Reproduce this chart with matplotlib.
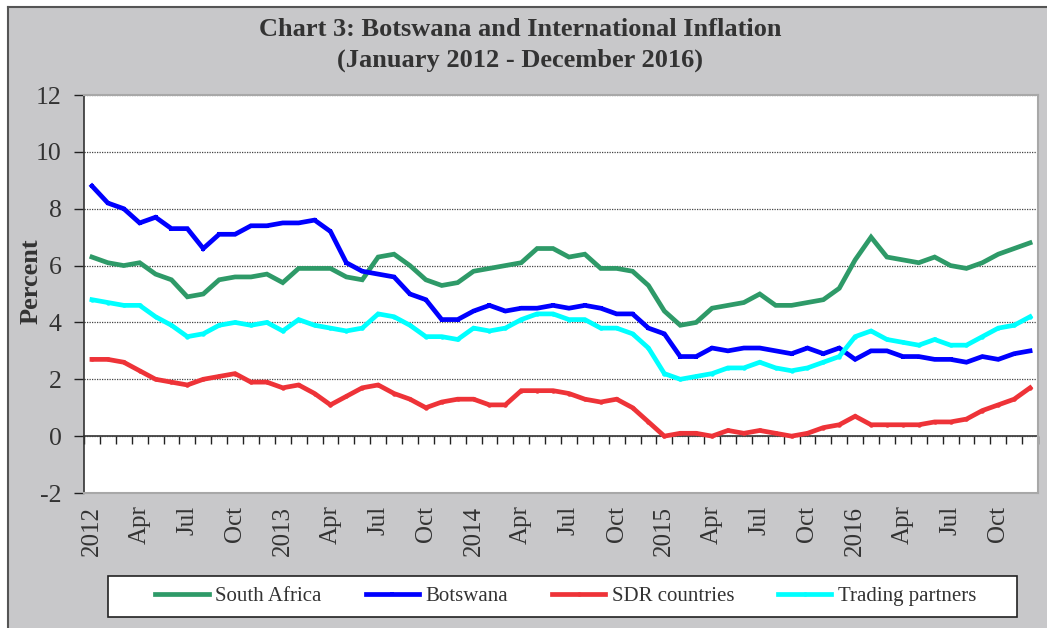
import matplotlib.pyplot as plt
import matplotlib.patches as mpatches
from matplotlib.lines import Line2D
import numpy as np

# Monthly inflation, January 2012 - December 2016 (percent)
south_africa = [
    6.3, 6.1, 6.0, 6.1, 5.7, 5.5, 4.9, 5.0, 5.5, 5.6, 5.6, 5.7,
    5.4, 5.9, 5.9, 5.9, 5.6, 5.5, 6.3, 6.4, 6.0, 5.5, 5.3, 5.4,
    5.8, 5.9, 6.0, 6.1, 6.6, 6.6, 6.3, 6.4, 5.9, 5.9, 5.8, 5.3,
    4.4, 3.9, 4.0, 4.5, 4.6, 4.7, 5.0, 4.6, 4.6, 4.7, 4.8, 5.2,
    6.2, 7.0, 6.3, 6.2, 6.1, 6.3, 6.0, 5.9, 6.1, 6.4, 6.6, 6.8,
]
botswana = [
    8.8, 8.2, 8.0, 7.5, 7.7, 7.3, 7.3, 6.6, 7.1, 7.1, 7.4, 7.4,
    7.5, 7.5, 7.6, 7.2, 6.1, 5.8, 5.7, 5.6, 5.0, 4.8, 4.1, 4.1,
    4.4, 4.6, 4.4, 4.5, 4.5, 4.6, 4.5, 4.6, 4.5, 4.3, 4.3, 3.8,
    3.6, 2.8, 2.8, 3.1, 3.0, 3.1, 3.1, 3.0, 2.9, 3.1, 2.9, 3.1,
    2.7, 3.0, 3.0, 2.8, 2.8, 2.7, 2.7, 2.6, 2.8, 2.7, 2.9, 3.0,
]
sdr_countries = [
    2.7, 2.7, 2.6, 2.3, 2.0, 1.9, 1.8, 2.0, 2.1, 2.2, 1.9, 1.9,
    1.7, 1.8, 1.5, 1.1, 1.4, 1.7, 1.8, 1.5, 1.3, 1.0, 1.2, 1.3,
    1.3, 1.1, 1.1, 1.6, 1.6, 1.6, 1.5, 1.3, 1.2, 1.3, 1.0, 0.5,
    0.0, 0.1, 0.1, 0.0, 0.2, 0.1, 0.2, 0.1, 0.0, 0.1, 0.3, 0.4,
    0.7, 0.4, 0.4, 0.4, 0.4, 0.5, 0.5, 0.6, 0.9, 1.1, 1.3, 1.7,
]
trading_partners = [
    4.8, 4.7, 4.6, 4.6, 4.2, 3.9, 3.5, 3.6, 3.9, 4.0, 3.9, 4.0,
    3.7, 4.1, 3.9, 3.8, 3.7, 3.8, 4.3, 4.2, 3.9, 3.5, 3.5, 3.4,
    3.8, 3.7, 3.8, 4.1, 4.3, 4.3, 4.1, 4.1, 3.8, 3.8, 3.6, 3.1,
    2.2, 2.0, 2.1, 2.2, 2.4, 2.4, 2.6, 2.4, 2.3, 2.4, 2.6, 2.8,
    3.5, 3.7, 3.4, 3.3, 3.2, 3.4, 3.2, 3.2, 3.5, 3.8, 3.9, 4.2,
]

YEARS = [2012, 2013, 2014, 2015, 2016]
QUARTER_MONTHS = ["Apr", "Jul", "Oct"]

SERIES = [
    ("South Africa", south_africa, "#2e9a68", None),
    ("Botswana", botswana, "#0000ff", "s"),
    ("SDR countries", sdr_countries, "#ee3338", "o"),
    ("Trading partners", trading_partners, "#00ffff", "o"),
]

BG_GRAY = "#c8c8ca"
TEXT_GRAY = "#333333"
SERIF = ["Liberation Serif", "DejaVu Serif"]
W, H = 1047, 628


def main():
    plt.rcParams["font.family"] = SERIF
    plt.rcParams["axes.unicode_minus"] = False

    fig = plt.figure(figsize=(W / 100, H / 100), dpi=100)
    fig.patch.set_facecolor("white")

    # gray chart frame with dark top/left border
    fig.patches.append(mpatches.Rectangle(
        (8 / W, 0), 1, 1 - 7 / H, transform=fig.transFigure,
        facecolor=BG_GRAY, edgecolor="none", zorder=-10,
    ))
    fig.add_artist(Line2D([8 / W, 1], [1 - 7 / H] * 2, color="#555555",
                          linewidth=1.5, transform=fig.transFigure))
    fig.add_artist(Line2D([8 / W] * 2, [0, 1 - 7 / H], color="#555555",
                          linewidth=1.5, transform=fig.transFigure))

    ax = fig.add_axes([84 / W, 1 - 493 / H, 954 / W, 398 / H])
    ax.set_facecolor("white")

    x = np.arange(len(botswana))
    handles = []
    for label, values, color, marker in SERIES:
        line, = ax.plot(
            x, values, color=color, linewidth=3.4, label=label,
            marker=marker, markersize=3.2, markeredgewidth=0,
            solid_joinstyle="miter", zorder=3,
        )
        handles.append(line)

    ax.set_xlim(-0.5, len(x) - 0.5)
    ax.set_ylim(-2, 12)
    ax.set_yticks(np.arange(-2, 13, 2))
    ax.tick_params(axis="y", direction="out", length=7, width=1,
                   labelsize=18.5, labelcolor=TEXT_GRAY, color="#222222", pad=9)
    ax.yaxis.grid(True, linestyle=(0, (1, 1)), color="#444444", linewidth=0.9)
    ax.set_axisbelow(True)

    labels = []
    for year in YEARS:
        labels.append(str(year))
        labels.extend(QUARTER_MONTHS)
    ax.set_xticks(np.arange(0, len(x), 3))
    ax.set_xticklabels(labels, rotation=90, fontsize=18, color=TEXT_GRAY)
    ax.tick_params(axis="x", length=0, pad=9)

    ax.set_ylabel("Percent", fontsize=19, fontweight="bold", color=TEXT_GRAY)
    ax.yaxis.set_label_coords(-0.043, 0.533)

    for side in ["top", "right", "bottom"]:
        ax.spines[side].set_color("#a8a8a8")
        ax.spines[side].set_linewidth(1.5)
    ax.spines["left"].set_color("#333333")
    ax.spines["left"].set_linewidth(1.2)

    # category axis crossing at zero
    zero_axis = ax.secondary_xaxis(0, transform=ax.transData)
    zero_axis.set_xticks(np.arange(-0.5, len(x), 1))
    zero_axis.tick_params(axis="x", direction="out", length=6, width=1,
                          color="#222222", labelbottom=False)
    zero_axis.spines["bottom"].set_color("#333333")
    zero_axis.spines["bottom"].set_linewidth(1.2)

    fig.text(0.497, 0.953, "Chart 3: Botswana and International Inflation",
             ha="center", va="center", fontsize=19, fontweight="bold",
             color=TEXT_GRAY)
    fig.text(0.497, 0.904, "(January 2012 - December 2016)",
             ha="center", va="center", fontsize=19, fontweight="bold",
             color=TEXT_GRAY)

    # legend box
    fig.patches.append(mpatches.Rectangle(
        (108 / W, 1 - 617 / H), 909 / W, 41 / H, transform=fig.transFigure,
        facecolor="white", edgecolor="#222222", linewidth=1.2, zorder=5,
    ))
    legend = fig.legend(
        handles=handles, loc="center", ncol=4,
        bbox_to_anchor=(566 / W, 1 - 596.5 / H),
        fontsize=15, frameon=False, handlelength=2.55,
        handletextpad=0.33, columnspacing=2.1,
    )
    legend.set_zorder(6)
    for text in legend.get_texts():
        text.set_color(TEXT_GRAY)

    fig.savefig("out.png", dpi=100, facecolor=fig.get_facecolor())
    plt.close(fig)


if __name__ == "__main__":
    main()
